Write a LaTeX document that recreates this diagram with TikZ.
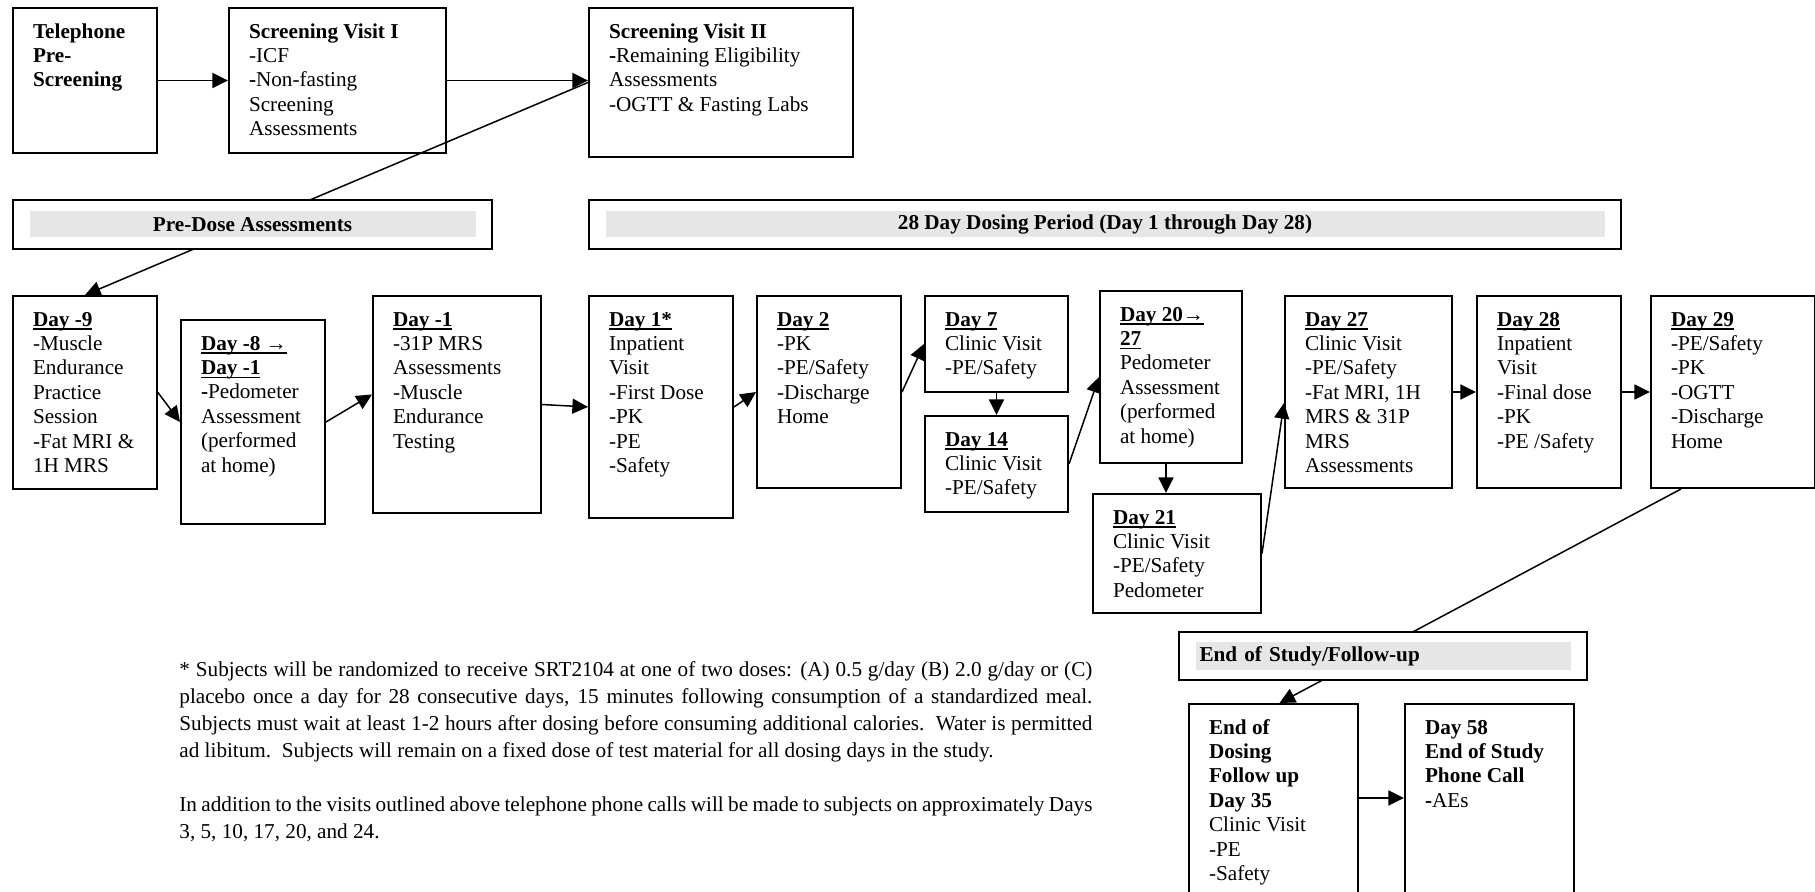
\documentclass[tikz,border=0pt]{standalone}
\usepackage{fontspec}
\setmainfont{Liberation Serif}
\usetikzlibrary{arrows.meta}
\newdimen\upx \upx=0.5pt
\definecolor{bandgray}{RGB}{230,230,230}
\newcommand{\bxfont}{\fontsize{10.6pt}{12.2pt}\selectfont}
\newcommand{\bxt}[3]{\begin{minipage}[t][#2\upx][t]{#1\upx}\bxfont\vspace*{6.5pt}\raggedright\leftskip=10pt\relax\strut #3\end{minipage}}
\newcommand{\dayul}[1]{\setbox0\hbox{#1}\rlap{\rule[-1.8pt]{\wd0}{0.75pt}}\box0}
\begin{document}
\begin{tikzpicture}[x=0.5pt,y=-0.5pt,
  box/.style={draw,line width=1pt,fill=white,inner sep=0pt,anchor=north west},
  arr/.style={line width=0.75pt,-{Triangle[length=7.8pt,width=7.5pt]}},
  band/.style={fill=bandgray,inner sep=0pt,font=\bxfont\bfseries}]
\clip (0,0) rectangle (1815,892);
\fill[white] (0,0) rectangle (1815,892);
% row 1
\node[box] (tel) at (12,7) {\bxt{144}{145}{\textbf{Telephone\\Pre-\\Screening}}};
\node[box] (sv1) at (228,7) {\bxt{217}{145}{\textbf{Screening Visit I}\\-ICF\\\textbf{-}Non-fasting\\Screening\\Assessments}};
\node[box] (sv2) at (588,7) {\bxt{264}{149}{\textbf{Screening Visit II}\\\textbf{-}Remaining Eligibility\\Assessments\\-OGTT \& Fasting Labs}};
% row 3
\node[box] (d9) at (12,295) {\bxt{144}{193}{\textbf{\dayul{Day -9}}\\-Muscle\\Endurance\\Practice\\Session\\-Fat MRI \&\\1H MRS}};
\node[box] (d8) at (180,319) {\bxt{144}{204}{\textbf{\dayul{Day -8 →}}\\\textbf{\dayul{Day -1}}\\\textbf{-}Pedometer\\Assessment\\(performed\\at home)}};
\node[box] (dm1) at (372,295) {\bxt{168}{217}{\textbf{\dayul{Day -1}}\\-31P MRS\\Assessments\\-Muscle\\Endurance\\Testing}};
\node[box] (d1) at (588,295) {\bxt{144}{222}{\textbf{\dayul{Day 1*}}\\Inpatient\\Visit\\-First Dose\\-PK\\-PE\\-Safety}};
\node[box] (d2) at (756,295) {\bxt{144}{192}{\textbf{\dayul{Day 2}}\\-PK\\-PE/Safety\\-Discharge\\Home}};
\node[box] (d7) at (924,295) {\bxt{143}{96}{\textbf{\dayul{Day 7}}\\Clinic Visit\\-PE/Safety}};
\node[box] (d14) at (924,415) {\bxt{143}{96}{\textbf{\dayul{Day 14}}\\Clinic Visit\\-PE/Safety}};
\node[box] (d20) at (1099,290) {\bxt{142}{172}{\textbf{\dayul{Day 20→}}\\\textbf{\dayul{27}}\\Pedometer\\Assessment\\(performed\\at home)}};
\node[box] (d21) at (1092,493) {\bxt{168}{119}{\textbf{\dayul{Day 21}}\\Clinic Visit\\-PE/Safety\\Pedometer}};
\node[box] (d27) at (1284,295) {\bxt{167}{192}{\textbf{\dayul{Day 27}}\\Clinic Visit\\-PE/Safety\\-Fat MRI, 1H\\MRS \& 31P\\MRS\\Assessments}};
\node[box] (d28) at (1476,295) {\bxt{144}{192}{\textbf{\dayul{Day 28}}\\Inpatient\\Visit\\-Final dose\\-PK\\-PE /Safety}};
\node[box] (d29) at (1650,295) {\bxt{164}{192}{\textbf{\dayul{Day 29}}\\-PE/Safety\\-PK\\-OGTT\\-Discharge\\Home}};
% follow-up boxes
\node[box] (eod) at (1188,703) {\bxt{169}{200}{\textbf{End of\\Dosing\\Follow up\\Day 35}\\Clinic Visit\\-PE\\-Safety}};
\node[box] (d58) at (1404,703) {\bxt{169}{200}{\textbf{Day 58\\End of Study\\Phone Call}\\\textbf{-}AEs}};
% long connectors passing behind the banners
\draw[arr] (sv2.west) -- (d9.north);
\draw[arr] ([xshift=15.5pt]d29.south west) -- ([xshift=3pt]eod.north);
% banners
\node[box] (pre) at (12,199) {\bxt{479}{49}{}};
\node[band,minimum width=223pt,minimum height=13pt] (pretxt) at (pre.center) {Pre-Dose Assessments};
\node[box] (dose) at (588,199) {\bxt{1032}{49}{}};
\node[band,minimum width=499.5pt,minimum height=13pt] (dosetxt) at (dose.center) {28 Day Dosing Period (Day 1 through Day 28)};
\node[box] (eos) at (1178,631) {\bxt{408}{48}{}};
\node[band,text width=183.5pt,inner xsep=2pt,minimum height=13.5pt,align=left] (eostxt) at (eos.center) {End of Study/Follow-up};
% connectors
\draw[arr] (tel.east) -- (tel.east -| sv1.west);
\draw[arr] (sv1.east) -- (sv1.east -| sv2.west);
\draw[arr] (d9.east) -- (d8.west);
\draw[arr] (d8.east) -- ([yshift=5pt]dm1.west);
\draw[arr] (dm1.east) -- (d1.west);
\draw[arr] (d1.east) -- (d2.west);
\draw[arr] (d2.east) -- (d7.west);
\draw[arr] (d7.south) -- (d14.north);
\draw[arr] (d14.east) -- (d20.west);
\draw[arr] ([xshift=-2.5pt]d20.south) -- ([xshift=-2.5pt]d20.south |- d21.north);
\draw[arr] (d21.east) -- ([yshift=-5.5pt]d27.west);
\draw[arr] (d27.east) -- (d28.west);
\draw[arr] (d28.east) -- (d29.west);
\draw[arr] ([yshift=-47.5pt]eod.north east) -- ([yshift=-47.5pt]d58.north west);
% footnote
\node[anchor=north west,inner sep=0pt,text width=456.5pt,align=justify,font=\fontsize{10.6pt}{13.5pt}\selectfont] (note) at (179,657)
{\strut * Subjects will be randomized to receive SRT2104 at one of two doses: (A) 0.5 g/day (B) 2.0 g/day or (C)\linebreak
placebo once a day for 28 consecutive days, 15 minutes following consumption of a standardized meal.\linebreak
Subjects must wait at least 1-2 hours after dosing before consuming additional calories.\ \ Water is permitted\linebreak
ad libitum.\ \ Subjects will remain on a fixed dose of test material for all dosing days in the study.\par
\vspace{13.5pt}
In addition to the visits outlined above telephone phone calls will be made to subjects on approximately Days\linebreak
3, 5, 10, 17, 20, and 24.};
\end{tikzpicture}
\end{document}
